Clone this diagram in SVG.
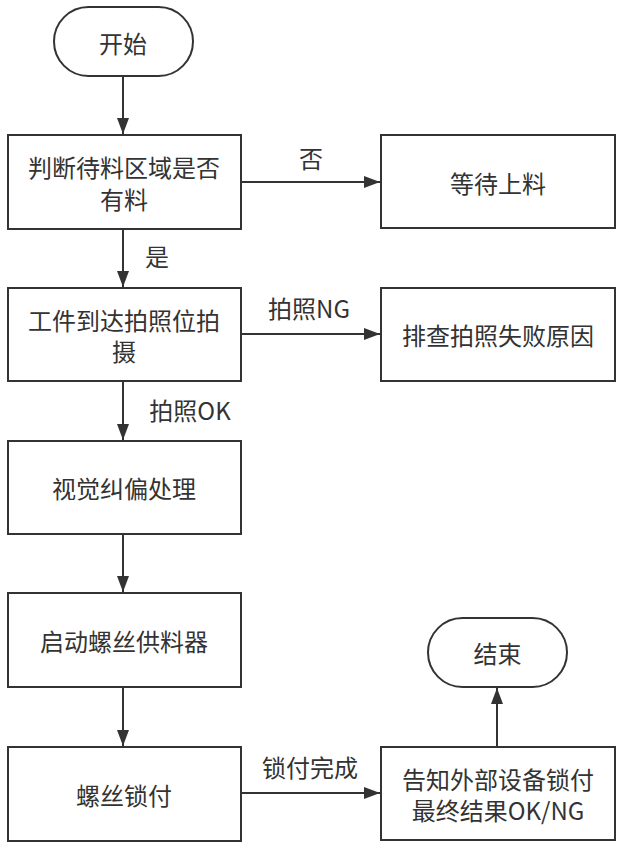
<svg xmlns="http://www.w3.org/2000/svg" width="624" height="852" viewBox="0 0 624 852">
<style>
.n{fill:#fff;stroke:#333;stroke-width:2}
.t{font-family:"Noto Sans CJK SC","Noto Sans",sans-serif;font-size:24px;fill:#333;text-anchor:middle;dominant-baseline:central}
.e{fill:none;stroke:#333;stroke-width:2}
</style>
<defs>
<marker id="a" viewBox="0 0 16 12" refX="16" refY="6" markerWidth="16" markerHeight="12" markerUnits="userSpaceOnUse" orient="auto">
<path d="M0,0 L16,6 L0,12 Z" fill="#333"/>
</marker>
</defs>
<rect width="624" height="852" fill="#fff"/>
<g id="connectors">
<path class="e" d="M123,76 V134" marker-end="url(#a)"/>
<path class="e" d="M241,182 H380" marker-end="url(#a)"/>
<path class="e" d="M123,229 V287" marker-end="url(#a)"/>
<path class="e" d="M241,334 H380" marker-end="url(#a)"/>
<path class="e" d="M123,381 V440" marker-end="url(#a)"/>
<path class="e" d="M123,534 V592" marker-end="url(#a)"/>
<path class="e" d="M123,687 V746" marker-end="url(#a)"/>
<path class="e" d="M241,793 H380" marker-end="url(#a)"/>
<path class="e" d="M497,747 V688" marker-end="url(#a)"/>
<text class="t" x="311" y="157">否</text>
<text class="t" x="157" y="255">是</text>
<text class="t" x="309" y="307">拍照NG</text>
<text class="t" x="190" y="409">拍照OK</text>
<text class="t" x="310" y="766">锁付完成</text>
</g>
<g id="start">
<rect class="n" x="54" y="7" width="139" height="69" rx="34.5"/>
<text class="t" x="123" y="42">开始</text>
</g>
<g id="check">
<rect class="n" x="8" y="135" width="233" height="94"/>
<text class="t" x="124" y="166.5">判断待料区域是否<tspan x="124" dy="31">有料</tspan></text>
</g>
<g id="wait">
<rect class="n" x="381" y="135" width="234" height="93"/>
<text class="t" x="498" y="182">等待上料</text>
</g>
<g id="shoot">
<rect class="n" x="8" y="288" width="233" height="93"/>
<text class="t" x="124" y="319">工件到达拍照位拍<tspan x="124" dy="31">摄</tspan></text>
</g>
<g id="ng">
<rect class="n" x="381" y="288" width="234" height="93"/>
<text class="t" x="498" y="334.5">排查拍照失败原因</text>
</g>
<g id="correct">
<rect class="n" x="8" y="441" width="233" height="93"/>
<text class="t" x="124" y="487.5">视觉纠偏处理</text>
</g>
<g id="feeder">
<rect class="n" x="8" y="593" width="233" height="94"/>
<text class="t" x="124" y="640">启动螺丝供料器</text>
</g>
<g id="lock">
<rect class="n" x="8" y="747" width="233" height="94"/>
<text class="t" x="124" y="794">螺丝锁付</text>
</g>
<g id="notify">
<rect class="n" x="381" y="747" width="234" height="93"/>
<text class="t" x="498" y="778">告知外部设备锁付<tspan x="498" dy="31">最终结果OK/NG</tspan></text>
</g>
<g id="end">
<rect class="n" x="428" y="618" width="139" height="69" rx="34.5"/>
<text class="t" x="497.5" y="652.5">结束</text>
</g>
</svg>
